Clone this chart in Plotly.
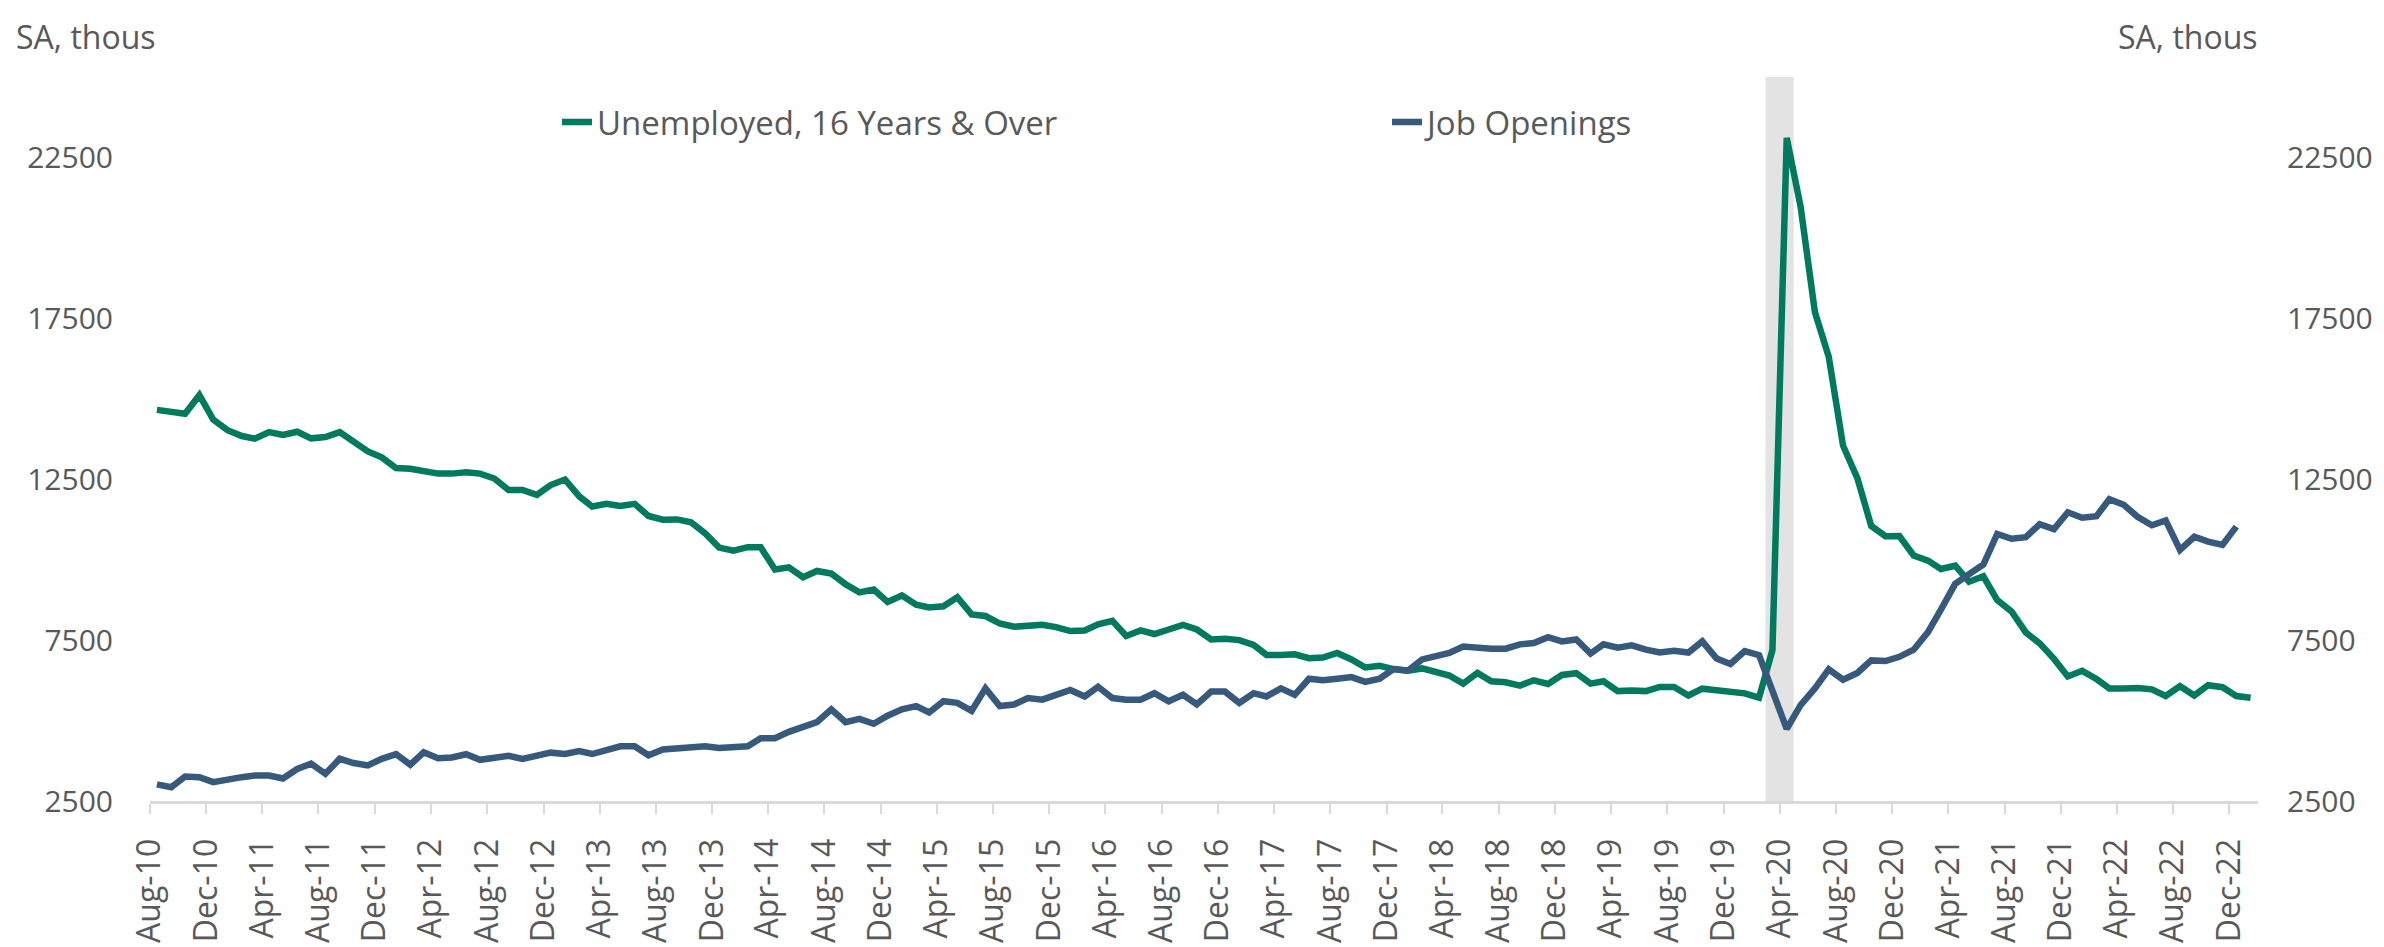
import pandas as pd
import plotly.graph_objects as go

# ---- data (thousands, seasonally adjusted) ----
months = pd.date_range("2010-08-01", "2023-01-01", freq="MS")  # Aug-10 .. Jan-23

unemployed = [
    14656, 14604, 14534, 15112, 14351,
    14025, 13842, 13761, 13965, 13873, 13974, 13771, 13812, 13965, 13639, 13365, 13182,
    12847, 12827, 12745, 12674, 12674, 12715, 12674, 12521, 12165, 12165, 12013, 12318,
    12491, 11967, 11653, 11735, 11671, 11736, 11357, 11241, 11251, 11161, 10814, 10376,
    10280, 10387, 10384, 9696, 9761, 9453, 9648, 9568, 9237, 8983, 9071, 8688,
    8885, 8599, 8515, 8550, 8834, 8299, 8249, 8015, 7915, 7927, 7977, 7904,
    7780, 7800, 7990, 8100, 7630, 7800, 7690, 7830, 7970, 7830, 7520, 7540,
    7500, 7350, 7040, 7040, 7060, 6940, 6960, 7100, 6900, 6650, 6700, 6600,
    6550, 6620, 6500, 6400, 6150, 6480, 6220, 6189, 6088, 6250, 6138, 6418,
    6473, 6149, 6220, 5915, 5936, 5915, 6046, 6046, 5778, 5991, 5945, 5915,
    5845, 5711, 7186, 23109, 20975, 17697, 16308, 13542, 12535, 11049, 10728, 10736,
    10130, 9972, 9710, 9812, 9316, 9484, 8746, 8391, 7738, 7400, 6916, 6372,
    6546, 6290, 6000, 6000, 6015, 5970, 5763, 6067, 5780, 6098, 6037, 5763,
    5710,
]

job_openings = [
    3018, 2927, 3262, 3241, 3088,
    3140, 3241, 3293, 3293, 3201, 3497, 3659, 3344, 3811, 3680, 3607, 3811,
    3954, 3628, 4015, 3832, 3852, 3954, 3780, 3832, 3903, 3811, 3903, 4003,
    3964, 4050, 3960, 4100, 4200, 4200, 3920, 4100, 4150, 4150, 4200, 4150,
    4150, 4200, 4450, 4450, 4650, 4800, 4950, 5350, 4950, 5050, 4900, 5150,
    5350, 5450, 5250, 5600, 5550, 5300, 6000, 5450, 5500, 5700, 5650, 5800,
    5950, 5750, 6050, 5700, 5650, 5650, 5850, 5600, 5800, 5500, 5900, 5900,
    5550, 5850, 5750, 6000, 5800, 6300, 6250, 6300, 6350, 6200, 6300, 6600,
    6550, 6900, 7000, 7100, 7300, 7250, 7235, 7235, 7368, 7409, 7591, 7460,
    7521, 7083, 7368, 7266, 7338, 7205, 7114, 7165, 7114, 7460, 6930, 6760,
    7160, 7033, 5860, 4740, 5480, 6000, 6590, 6270, 6480, 6870, 6850, 6980,
    7200, 7750, 8450, 9250, 9550, 9850, 10800, 10650, 10700, 11100, 10950, 11473,
    11302, 11351, 11881, 11708, 11333, 11068, 11220, 10305, 10711, 10559, 10458, 11028,
]

tick_months = pd.date_range("2010-08-01", "2022-12-01", freq="4MS")
tick_labels = [d.strftime("%b-%y") for d in tick_months]
y_ticks = [2500, 7500, 12500, 17500, 22500]
y_labels = [str(v) for v in y_ticks]
recession = ("2020-03-01", "2020-05-01")

# ---- styling ----
GREEN = "#007A5E"
BLUE = "#375A7C"
TXT = "#595959"
AX = "#D9D9D9"
FONT = "Open Sans"
FS = 32
YFS = 30

# plot points at mid-month (values sit between month ticks)
x_pts = months + pd.Timedelta(days=15)

fig = go.Figure()
fig.add_trace(go.Scatter(
    x=x_pts, y=unemployed, mode="lines", name="Unemployed, 16 Years & Over",
    line=dict(color=GREEN, width=6.5), yaxis="y"))
fig.add_trace(go.Scatter(
    x=x_pts[:len(job_openings)], y=job_openings, mode="lines", name="Job Openings",
    line=dict(color=BLUE, width=6.5), yaxis="y2"))

fig.add_shape(type="rect", xref="x", yref="paper", x0=recession[0], x1=recession[1],
              y0=0, y1=1, fillcolor="#E3E3E3", line=dict(width=0), layer="below")

fig.update_layout(
    width=2384, height=947,
    margin=dict(l=142, r=134, t=69, b=140),
    paper_bgcolor="white", plot_bgcolor="white",
    font=dict(family=FONT, size=FS, color=TXT),
    showlegend=True,
    legend=dict(orientation="h", x=(549 - 142) / 2108, xanchor="left",
                y=(807 - 115) / 738, yanchor="middle",
                entrywidth=785, entrywidthmode="pixels",
                font=dict(family=FONT, size=33, color=TXT),
                bgcolor="rgba(0,0,0,0)", borderwidth=0, itemwidth=30),
    xaxis=dict(type="date", range=["2010-08-01", "2023-02-01"],
               tickmode="array", tickvals=tick_months, ticktext=tick_labels,
               tickangle=-90, ticks="outside", ticklen=10, tickwidth=2, tickcolor=AX,
               showline=True, linecolor=AX, linewidth=3, showgrid=False, zeroline=False,
               tickfont=dict(family=FONT, size=FS, color=TXT), ticklabelstandoff=12),
    yaxis=dict(range=[2500, 25000], tickmode="array", tickvals=y_ticks, ticktext=y_labels,
               showgrid=False, zeroline=False, showline=False, ticks="",
               tickfont=dict(family=FONT, size=YFS, color=TXT), ticklabelstandoff=36),
    yaxis2=dict(range=[2500, 25000], overlaying="y", side="right", tickmode="array",
                tickvals=y_ticks, ticktext=y_labels, showgrid=False, zeroline=False,
                showline=False, ticks="",
                tickfont=dict(family=FONT, size=YFS, color=TXT), ticklabelstandoff=28),
    annotations=[
        dict(text="SA, thous", xref="paper", yref="paper", x=(6 - 142) / 2108, y=(807 - 28) / 738,
             xanchor="left", yanchor="middle", showarrow=False,
             font=dict(family=FONT, size=FS, color=TXT)),
        dict(text="SA, thous", xref="paper", yref="paper", x=(2252 - 142) / 2108, y=(807 - 28) / 738,
             xanchor="right", yanchor="middle", showarrow=False,
             font=dict(family=FONT, size=FS, color=TXT)),
    ],
)

fig.write_html("out.html")
